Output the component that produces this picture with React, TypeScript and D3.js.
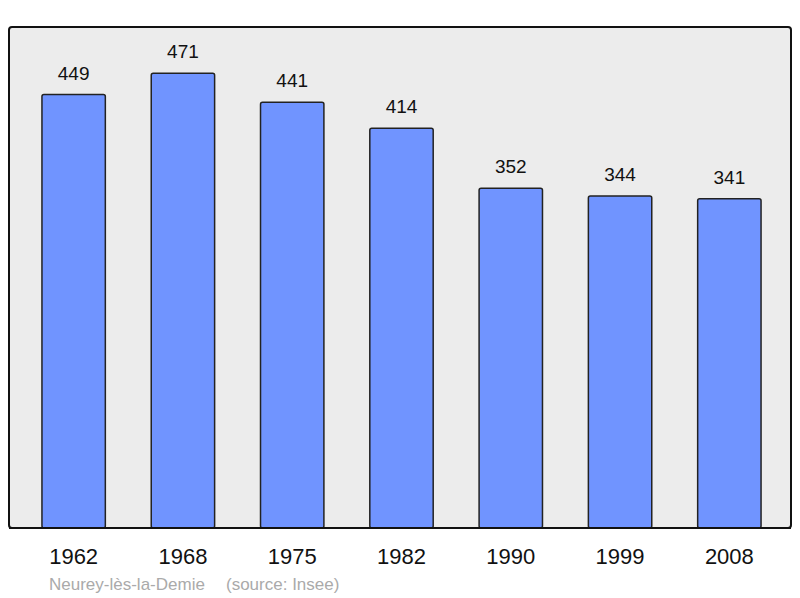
import { useEffect, useRef } from "react";
import * as d3 from "d3";

// population by census year
const years = ["1962", "1968", "1975", "1982", "1990", "1999", "2008"];
const population = [449, 471, 441, 414, 352, 344, 341];
const townName = "Neurey-lès-la-Demie";
const sourceNote = "(source: Insee)";

export default function App() {
  const svgRef = useRef<SVGSVGElement | null>(null);

  useEffect(() => {
    const svgEl = svgRef.current;
    if (!svgEl) return;
    const root = d3.select(svgEl);
    root.selectAll("*").remove();

    const width = 800;
    const height = 598;
    const panel = { left: 9, top: 27, right: 791, bottom: 528 };

    const x = d3
      .scaleBand<string>()
      .domain(years)
      .range([19, 784])
      .paddingInner(0.42)
      .paddingOuter(0.21);

    const y = d3.scaleLinear().domain([0, 519]).range([panel.bottom, panel.top]);

    root.attr("width", width).attr("height", height);

    // background panel
    root
      .append("rect")
      .attr("x", panel.left)
      .attr("y", panel.top)
      .attr("width", panel.right - panel.left)
      .attr("height", panel.bottom - panel.top)
      .attr("rx", 3)
      .attr("fill", "#ececec")
      .attr("stroke", "#111")
      .attr("stroke-width", 2);

    // bars
    root
      .append("g")
      .selectAll("rect")
      .data(population)
      .join("rect")
      .attr("x", (_, i) => x(years[i])!)
      .attr("y", (d) => y(d))
      .attr("width", x.bandwidth())
      .attr("height", (d) => panel.bottom - y(d))
      .attr("rx", 2)
      .attr("fill", "#7094ff")
      .attr("stroke", "#222")
      .attr("stroke-width", 1.5);

    // redraw the bottom edge over bars
    root
      .append("line")
      .attr("x1", panel.left)
      .attr("x2", panel.right)
      .attr("y1", panel.bottom)
      .attr("y2", panel.bottom)
      .attr("stroke", "#111")
      .attr("stroke-width", 2);

    // value labels
    root
      .append("g")
      .selectAll("text")
      .data(population)
      .join("text")
      .attr("x", (_, i) => x(years[i])! + x.bandwidth() / 2)
      .attr("y", (d) => y(d) - 15)
      .attr("text-anchor", "middle")
      .attr("font-family", "Liberation Sans, Arial, sans-serif")
      .attr("font-size", 19)
      .attr("fill", "#111")
      .text((d) => d);

    // year labels
    root
      .append("g")
      .selectAll("text")
      .data(years)
      .join("text")
      .attr("x", (d) => x(d)! + x.bandwidth() / 2)
      .attr("y", 564)
      .attr("text-anchor", "middle")
      .attr("font-family", "Liberation Sans, Arial, sans-serif")
      .attr("font-size", 22)
      .attr("fill", "#111")
      .text((d) => d);

    // caption
    const caption = root
      .append("text")
      .attr("y", 590)
      .attr("font-family", "Liberation Sans, Arial, sans-serif")
      .attr("font-size", 17)
      .attr("fill", "#aaaaaa");
    caption.append("tspan").attr("x", 49).text(townName);
    caption.append("tspan").attr("x", 226).text(sourceNote);
  }, []);

  return (
    <div style={{ position: "absolute", left: 0, top: 0 }}>
      <svg ref={svgRef} style={{ display: "block" }} />
    </div>
  );
}
